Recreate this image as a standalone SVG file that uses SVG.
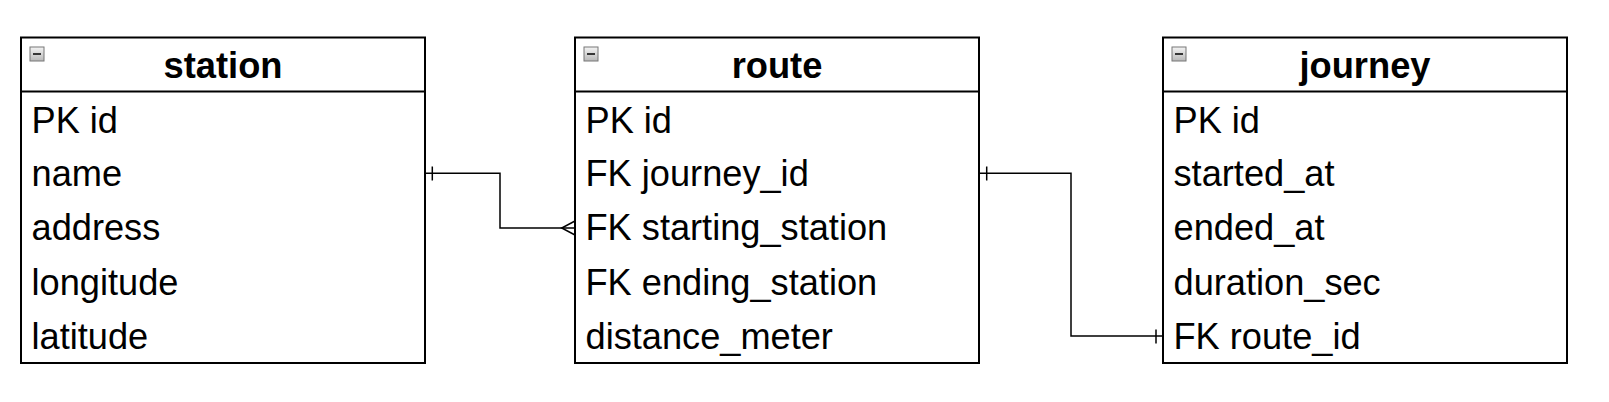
<svg xmlns="http://www.w3.org/2000/svg" width="1609" height="402" viewBox="0 0 1609 402">
<style>
.box{fill:#fff;stroke:#000;stroke-width:2}
.sep{stroke:#000;stroke-width:2}
.title{font-family:"Liberation Sans",Arial,sans-serif;font-weight:bold;font-size:36.3px;text-anchor:middle;fill:#000}
.row{font-family:"Liberation Sans",Arial,sans-serif;font-size:36.2px;fill:#000}
.conn{fill:none;stroke:#000;stroke-width:1.5}
.ico{fill:url(#g);stroke:#777;stroke-width:1}
.icm{stroke:#000;stroke-width:1.5}
</style>
<defs>
<linearGradient id="g" x1="0" y1="0" x2="0" y2="1">
<stop offset="0" stop-color="#f4f4f4"/>
<stop offset="1" stop-color="#b8b8b8"/>
</linearGradient>
<g id="icon">
<rect class="ico" x="0.5" y="0.5" width="14" height="14"/>
<line class="icm" x1="3.5" y1="7.5" x2="11.5" y2="7.5"/>
</g>
</defs>
<rect width="1609" height="402" fill="#fff"/>
<g id="connectors">
<path class="conn" d="M425,173.3 H500 V228 H575"/>
<line class="conn" x1="432.3" y1="166.5" x2="432.3" y2="180.5"/>
<path class="conn" d="M575,221 L561.7,228 L575,235"/>
<path class="conn" d="M979,173.3 H1071 V336 H1163"/>
<line class="conn" x1="986.7" y1="166.5" x2="986.7" y2="180.5"/>
<line class="conn" x1="1156" y1="329.5" x2="1156" y2="343.5"/>
</g>
<g id="station">
<rect class="box" x="21" y="37.5" width="404" height="325.5"/>
<line class="sep" x1="21" y1="91.5" x2="425" y2="91.5"/>
<use href="#icon" x="29.5" y="46.5"/>
<text class="title" x="223" y="77.5">station</text>
<text class="row" x="31.5" y="132.5">PK id</text>
<text class="row" x="31.5" y="186">name</text>
<text class="row" x="31.5" y="240">address</text>
<text class="row" x="31.5" y="294.5">longitude</text>
<text class="row" x="31.5" y="349">latitude</text>
</g>
<g id="route">
<rect class="box" x="575" y="37.5" width="404" height="325.5"/>
<line class="sep" x1="575" y1="91.5" x2="979" y2="91.5"/>
<use href="#icon" x="583.5" y="46.5"/>
<text class="title" x="777" y="77.5">route</text>
<text class="row" x="585.5" y="132.5">PK id</text>
<text class="row" x="585.5" y="186">FK journey_id</text>
<text class="row" x="585.5" y="240">FK starting_station</text>
<text class="row" x="585.5" y="294.5">FK ending_station</text>
<text class="row" x="585.5" y="349">distance_meter</text>
</g>
<g id="journey">
<rect class="box" x="1163" y="37.5" width="404" height="325.5"/>
<line class="sep" x1="1163" y1="91.5" x2="1567" y2="91.5"/>
<use href="#icon" x="1171.5" y="46.5"/>
<text class="title" x="1365" y="77.5">journey</text>
<text class="row" x="1173.5" y="132.5">PK id</text>
<text class="row" x="1173.5" y="186">started_at</text>
<text class="row" x="1173.5" y="240">ended_at</text>
<text class="row" x="1173.5" y="294.5">duration_sec</text>
<text class="row" x="1173.5" y="349">FK route_id</text>
</g>
</svg>
